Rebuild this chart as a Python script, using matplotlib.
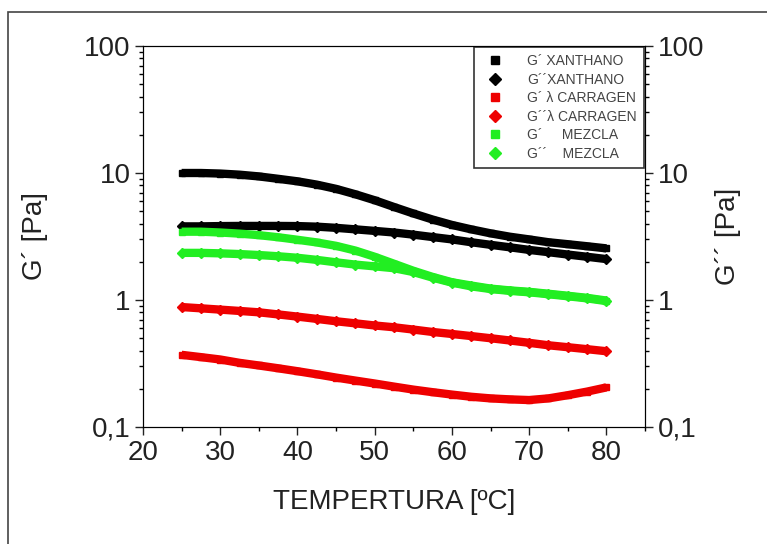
import numpy as np
import matplotlib
matplotlib.use('Agg')
import matplotlib.pyplot as plt
from matplotlib.lines import Line2D
from matplotlib.patches import Rectangle

plt.rcParams['font.family'] = ['Liberation Sans', 'DejaVu Sans']

temp = [25, 27.5, 30, 32.5, 35, 37.5, 40, 42.5, 45, 47.5, 50, 52.5, 55, 57.5,
        60, 62.5, 65, 67.5, 70, 72.5, 75, 77.5, 80]

g1_xan = [10.0, 10.0, 9.9, 9.7, 9.4, 9.0, 8.6, 8.1, 7.5, 6.8, 6.1, 5.4, 4.8, 4.3,
          3.9, 3.6, 3.35, 3.15, 3.0, 2.85, 2.75, 2.65, 2.55]
g2_xan = [3.8, 3.8, 3.82, 3.83, 3.83, 3.83, 3.82, 3.78, 3.7, 3.6, 3.5, 3.4, 3.27, 3.13,
          3.0, 2.85, 2.72, 2.6, 2.48, 2.38, 2.28, 2.19, 2.1]
g1_car = [0.37, 0.355, 0.34, 0.32, 0.305, 0.29, 0.275, 0.26, 0.245, 0.232, 0.22, 0.208,
          0.197, 0.188, 0.18, 0.173, 0.168, 0.165, 0.163, 0.168, 0.178, 0.19, 0.205]
g2_car = [0.88, 0.86, 0.84, 0.82, 0.8, 0.77, 0.74, 0.71, 0.68, 0.655, 0.63, 0.61, 0.585,
          0.56, 0.54, 0.52, 0.5, 0.48, 0.46, 0.44, 0.425, 0.41, 0.395]
g1_mez = [3.45, 3.45, 3.4, 3.33, 3.24, 3.12, 2.98, 2.84, 2.67, 2.45, 2.19, 1.93, 1.7, 1.52,
          1.38, 1.3, 1.23, 1.19, 1.16, 1.12, 1.08, 1.04, 0.99]
g2_mez = [2.35, 2.35, 2.33, 2.3, 2.26, 2.21, 2.15, 2.07, 1.98, 1.9, 1.84, 1.78, 1.66, 1.5,
          1.37, 1.28, 1.22, 1.18, 1.15, 1.11, 1.07, 1.03, 0.98]

labels = ['G´ XANTHANO', 'G´´XANTHANO', 'G´ λ CARRAGEN', 'G´´λ CARRAGEN',
          'G´     MEZCLA', 'G´´    MEZCLA']
colors = ['black', 'black', '#ee0000', '#ee0000', '#22ee22', '#22ee22']
markers = ['s', 'D', 's', 'D', 's', 'D']
series = [g1_xan, g2_xan, g1_car, g2_car, g1_mez, g2_mez]

fig = plt.figure(figsize=(7.67, 5.44), dpi=100)
fig.patches.append(Rectangle((8 / 767, -0.5), 3, 1 - 12 / 544 + 0.5,
                             transform=fig.transFigure, fill=False,
                             edgecolor='#444444', lw=1.2))
ax = fig.add_axes([143 / 767, 1 - 427 / 544, (645 - 143) / 767, (427 - 46) / 544])

for vals, c, m in zip(series, colors, markers):
    ax.plot(temp, vals, color=c, lw=6, marker=m, ms=5, solid_capstyle='butt')

ax.set_yscale('log')
ax.set_xlim(20, 85)
ax.set_ylim(0.1, 100)
ax.set_xticks([20, 30, 40, 50, 60, 70, 80])
ax.set_xticks([25, 35, 45, 55, 65, 75, 85], minor=True)
yt = [0.1, 1, 10, 100]
ytl = ['0,1', '1', '10', '100']
ax.set_yticks(yt)
ax.set_yticklabels(ytl)
ax.tick_params(axis='both', which='major', direction='out', length=6, width=1,
               labelsize=20, colors='#222222', pad=3)
ax.tick_params(axis='both', which='minor', direction='out', length=3, width=1)
ax.set_xlabel('TEMPERTURA [ºC]', fontsize=20, color='#222222', labelpad=17)
ax.set_ylabel('G´ [Pa]', fontsize=20, color='#222222', labelpad=26)

ax2 = ax.twinx()
ax2.set_yscale('log')
ax2.set_ylim(0.1, 100)
ax2.set_yticks(yt)
ax2.set_yticklabels(ytl)
ax2.tick_params(axis='y', which='major', direction='out', length=6, width=1,
                labelsize=20, colors='#222222', pad=3)
ax2.tick_params(axis='y', which='minor', direction='out', length=3, width=1)
ax2.set_ylabel('G´´ [Pa]', fontsize=20, color='#222222', labelpad=8)

handles = [Line2D([], [], ls='none', marker=m, color=c, ms=6)
           for c, m in zip(colors, markers)]
leg = ax.legend(handles, labels, loc='upper right', fontsize=10, frameon=True,
                fancybox=False, edgecolor='black', borderaxespad=0.1,
                handletextpad=1.3, labelspacing=0.32, borderpad=0.5,
                handlelength=2.0, labelcolor='#444444')
leg.get_frame().set_linewidth(1.2)

fig.savefig('out.png', dpi=100)
